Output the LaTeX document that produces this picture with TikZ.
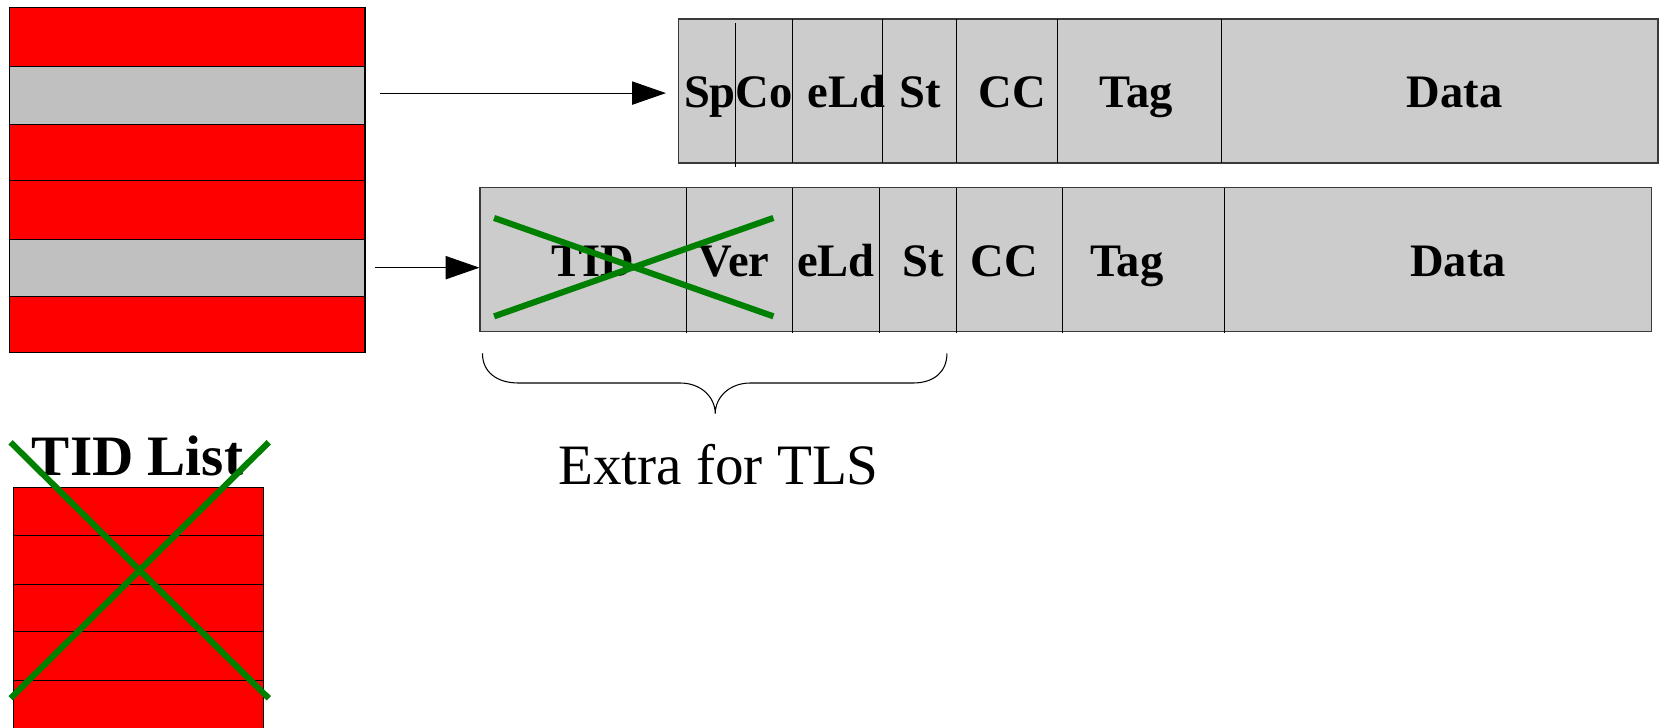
\documentclass[tikz,border=0pt]{standalone}
\usepackage{fontspec}
\setmainfont{Liberation Serif}
\usetikzlibrary{arrows.meta}
\definecolor{stackgray}{HTML}{C0C0C0}
\definecolor{recgray}{HTML}{CCCCCC}
\definecolor{xgreen}{HTML}{008000}
\definecolor{edgegray}{HTML}{3A3A3A}
\begin{document}
\begin{tikzpicture}[x=0.5pt,y=-0.5pt,
  band/.style={draw=black,line width=0.5pt},
  recbox/.style={fill=recgray,draw=edgegray,line width=0.6pt},
  divider/.style={draw=black,line width=0.4pt},
  lbl/.style={anchor=base,inner sep=0pt,font=\fontsize{22}{26}\selectfont\bfseries},
  cross/.style={draw=xgreen,line width=2.9pt},
  arr/.style={draw=black,line width=0.5pt,-{Triangle[length=16pt,width=11pt]}}
]
\useasboundingbox (0,0) rectangle (1568,688);

% left stack
\filldraw[band,fill=red]       (9,7)   rectangle (345,63);
\filldraw[band,fill=stackgray] (9,63)  rectangle (345,118);
\filldraw[band,fill=red]       (9,118) rectangle (345,171);
\filldraw[band,fill=red]       (9,171) rectangle (345,226);
\filldraw[band,fill=stackgray] (9,226) rectangle (345,280);
\filldraw[band,fill=red]       (9,280) rectangle (345,333);

% top record
\node[recbox,minimum width=463pt,minimum height=68pt,inner sep=0pt] (rec1) at (1104,86) {};
\draw[divider] (695,22) -- (695,158);
\foreach \x in {749,834,904,999,1154} \draw[divider] (\x,18) -- (\x,154);
\node[lbl] (t1) at (671,102) {Sp};
\node[lbl] (t2) at (722,102) {Co};
\node[lbl] (t3) at (800,102) {eLd};
\node[lbl] (t4) at (870,102) {St};
\node[lbl] (t5) at (957,102) {CC};
\node[lbl] (t6) at (1074,102) {Tag};
\node[lbl] (t7) at (1375,102) {Data};

% bottom record
\node[recbox,minimum width=553.5pt,minimum height=68pt,inner sep=0pt] (rec2) at (1007.25,245.5) {};
\foreach \x in {649,749,831,904,1004,1157} \draw[divider] (\x,178) -- (\x,315);
\node[lbl] (b1) at (560,261) {TID};
\node[lbl] (b2) at (694,261) {Ver};
\node[lbl] (b3) at (790,261) {eLd};
\node[lbl] (b4) at (873,261) {St};
\node[lbl] (b5) at (949,261) {CC};
\node[lbl] (b6) at (1065,261) {Tag};
\node[lbl] (b7) at (1378,261) {Data};
\draw[cross] (467,206) -- (731,299);
\draw[cross] (467,299) -- (731,206);

% arrows
\coordinate (a1) at (359,88);
\coordinate (a2) at (354,253);
\draw[arr,shorten >=5.5pt] (a1) -- (a1 -| rec1.west);
\draw[arr] (a2) -- (a2 -| rec2.west);

% brace
\draw[line width=0.5pt] (456,334) .. controls (456,352) and (470,362) .. (490,362) -- (643,362)
  .. controls (662,362) and (676,375) .. (676,391)
  .. controls (676,375) and (690,362) .. (709,362) -- (863,362)
  .. controls (882,362) and (895,352) .. (895,334);
\node[anchor=base,inner sep=0pt,font=\fontsize{27}{32}\selectfont] (extra) at (679,458) {Extra for TLS};

% TID list
\filldraw[band,fill=red] (13,461) rectangle (249,690);
\foreach \y in {506,552,597,643} \draw[band] (13,\y) -- (249,\y);
\node[anchor=base,inner sep=0pt,font=\fontsize{27}{32}\selectfont\bfseries] (tidlist) at (130,449) {TID List};
\draw[cross] (10,418) -- (254,660);
\draw[cross] (10,660) -- (254,418);
\end{tikzpicture}
\end{document}
